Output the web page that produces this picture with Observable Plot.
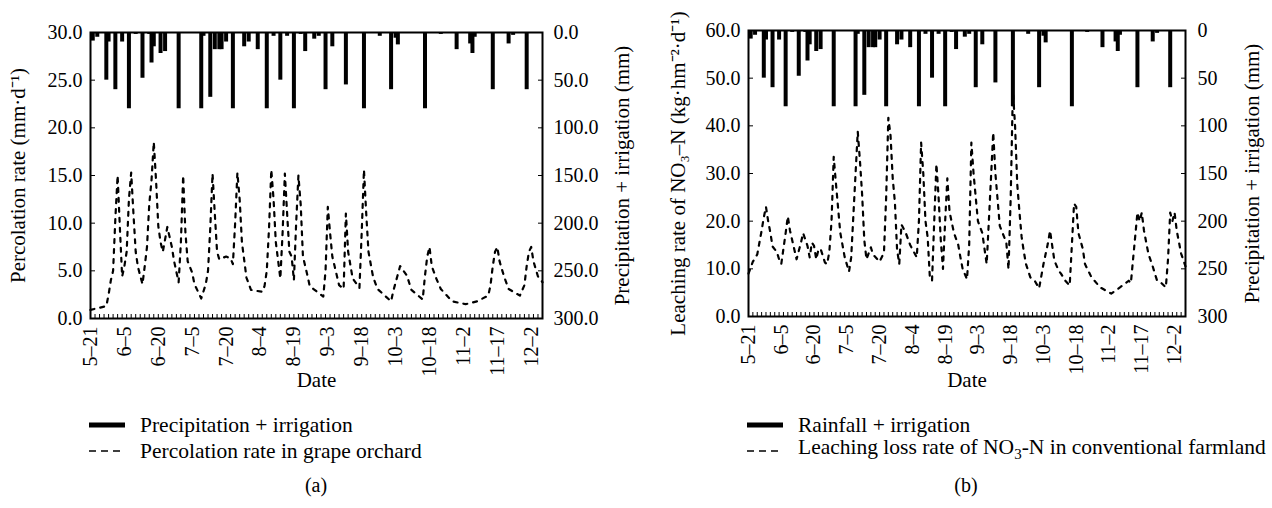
<!DOCTYPE html>
<html><head><meta charset="utf-8">
<script src="https://cdn.jsdelivr.net/npm/d3@7"></script>
<script src="https://cdn.jsdelivr.net/npm/@observablehq/plot@0.6"></script>
<style>
body{margin:0;background:#fff;}
#wrap{position:relative;width:1272px;height:508px;font-family:"Liberation Serif",serif;color:#000;background:#fff;overflow:hidden;}
.panel{position:absolute;top:0;font-family:"Liberation Serif",serif;}
.panel text{font-family:"Liberation Serif",serif;}
.leg{position:absolute;font-size:21.5px;line-height:26px;white-space:nowrap;}
.leg .row{display:flex;align-items:center;height:26px;}
.leg svg{margin-right:14px;}
.cap{position:absolute;font-size:20px;transform:translateX(-50%);}
</style></head><body><div id="wrap"></div>
<script>
// x-axis tick labels (month-day)
const tickLabels = ["5-21","6-5","6-20","7-5","7-20","8-4","8-19","9-3","9-18","10-3","10-18","11-2","11-17","12-2"];
const firstDay = "5-21", lastDay = "12-7";

// Precipitation (rainfall) + irrigation, mm (same events in both panels)
const waterDates = ["5-22","5-24","5-28","5-29","6-1","6-4","6-7","6-10","6-13","6-16","6-17","6-18","6-21","6-23","6-29","7-9","7-10","7-13","7-15","7-17","7-18","7-20","7-23","7-28","7-30","8-3","8-7","8-10","8-13","8-16","8-19","8-22","8-24","8-28","8-30","9-2","9-5","9-11","9-19","9-26","10-1","10-3","10-4","10-16","10-23","10-30","11-5","11-6","11-7","11-15","11-22","11-24","11-30"];
const waterMm = [9,5,50,10,60,10,80,2,48,2,32,15,22,20,80,80,4,68,18,18,18,10,80,15,10,18,80,4,50,4,80,2,20,7,4,60,15,55,80,4,60,6,13,80,2,18,12,22,5,60,12,3,60];

// (a) percolation rate in grape orchard, mm/d
const percDates = ["5-21","5-28","5-29","5-30","5-31","6-1","6-2","6-3","6-4","6-5","6-6","6-7","6-8","6-9","6-10","6-11","6-13","6-14","6-15","6-16","6-17","6-18","6-19","6-20","6-21","6-22","6-24","6-26","6-27","6-29","6-30","7-1","7-2","7-3","7-5","7-6","7-9","7-11","7-12","7-13","7-14","7-15","7-16","7-17","7-20","7-22","7-23","7-24","7-25","7-26","7-27","7-29","7-31","8-5","8-6","8-7","8-8","8-9","8-10","8-11","8-13","8-14","8-15","8-16","8-17","8-18","8-19","8-20","8-21","8-22","8-23","8-25","8-26","9-1","9-2","9-3","9-4","9-5","9-6","9-8","9-10","9-11","9-12","9-14","9-17","9-18","9-19","9-20","9-21","9-23","9-25","10-1","10-2","10-5","10-8","10-10","10-15","10-16","10-17","10-18","10-19","10-21","10-23","10-28","11-3","11-8","11-13","11-14","11-15","11-16","11-17","11-18","11-20","11-22","11-27","11-29","11-30","12-1","12-2","12-3","12-5","12-7"];
const percRate = [0.9,1.3,2.5,4.0,5.0,10.5,15.0,9.5,4.4,5.5,7.0,12.5,15.3,11.0,7.0,5.4,3.6,5.5,7.5,12.0,14.5,18.5,14.5,9.7,8.0,7.0,9.6,7.5,6.0,3.8,8.0,15.0,9.0,6.0,4.8,3.6,2.1,3.6,5.0,9.5,15.2,11.0,7.0,6.2,6.5,6.3,5.7,10.0,15.3,12.5,8.0,4.3,3.0,2.8,3.4,5.0,9.5,15.6,12.5,8.0,4.2,9.0,15.2,11.0,7.0,6.5,4.0,10.0,15.0,12.0,6.5,4.5,3.4,2.3,5.0,11.7,9.0,6.5,5.5,3.5,3.1,11.0,7.0,4.2,3.2,9.0,15.6,11.0,7.0,4.4,3.1,1.8,2.9,5.5,4.5,3.0,2.0,4.5,6.5,7.5,5.5,4.2,3.1,1.8,1.5,1.8,2.4,3.5,5.5,7.0,7.5,6.0,4.4,3.1,2.4,3.5,5.5,7.0,7.5,6.0,4.4,3.8];

// (b) leaching rate of NO3-N in conventional farmland, kg/hm2/d
const leachDates = ["5-21","5-23","5-25","5-27","5-28","5-29","5-30","5-31","6-1","6-3","6-4","6-5","6-7","6-8","6-9","6-10","6-11","6-12","6-14","6-15","6-17","6-18","6-19","6-20","6-21","6-22","6-23","6-25","6-26","6-27","6-28","6-29","6-30","7-2","7-4","7-6","7-7","7-9","7-10","7-11","7-12","7-13","7-14","7-16","7-17","7-19","7-20","7-22","7-23","7-24","7-25","7-26","7-27","7-28","7-29","7-30","8-1","8-3","8-6","8-7","8-8","8-9","8-10","8-11","8-12","8-13","8-14","8-15","8-16","8-17","8-18","8-19","8-20","8-21","8-23","8-25","8-26","8-27","8-29","8-30","8-31","9-1","9-3","9-5","9-7","9-8","9-10","9-11","9-13","9-16","9-17","9-18","9-19","9-20","9-21","9-22","9-23","9-24","9-25","9-27","9-29","10-1","10-3","10-5","10-6","10-8","10-10","10-11","10-13","10-15","10-16","10-17","10-18","10-19","10-21","10-22","10-25","10-29","11-3","11-7","11-11","11-12","11-13","11-15","11-16","11-17","11-18","11-20","11-22","11-24","11-26","11-28","11-29","11-30","12-1","12-2","12-3","12-5","12-7"];
const leachRate = [9.0,11.5,13.0,18.0,20.8,23.0,20.0,17.6,14.7,13.5,12.0,11.0,17.5,21.0,18.0,16.0,14.0,12.0,15.5,17.5,14.8,12.4,15.5,14.8,12.0,14.0,14.2,11.3,11.0,13.6,20.0,33.5,28.0,17.6,12.5,9.4,12.4,30.0,38.8,32.7,25.6,16.0,12.0,14.5,13.0,12.0,11.5,13.4,25.0,41.7,38.0,29.0,24.0,14.0,11.0,19.3,17.5,15.0,12.4,20.0,36.5,30.0,20.0,16.6,8.2,7.5,20.0,32.0,25.0,16.0,10.0,20.0,29.0,22.0,17.6,15.0,12.4,10.0,7.8,15.0,36.5,30.0,20.0,17.5,11.0,20.0,38.6,30.0,19.0,15.5,9.9,25.0,47.5,40.0,27.7,22.0,16.7,13.6,11.0,8.2,7.5,5.9,11.0,15.3,18.0,11.7,9.6,9.0,7.5,6.5,15.0,23.7,23.0,17.5,14.2,11.0,8.2,6.1,4.8,6.1,7.5,7.0,12.0,21.8,20.0,21.8,18.0,13.2,10.5,7.5,7.0,6.1,12.0,21.8,20.0,21.8,18.0,13.2,10.5];

const legendA = ["Precipitation + irrigation", "Percolation rate in grape orchard"];
const legendB = ["Rainfall + irrigation", "Leaching loss rate of NO<sub style=\"font-size:15px\">3</sub>-N in conventional farmland"];

const parse = s => { const [m, d] = s.split("-").map(Number); return new Date(Date.UTC(2019, m - 1, d)); };
const start = parse(firstDay), end = parse(lastDay);
const tickDates = tickLabels.map(parse);
const minorTicks = d3.utcDay.range(start, d3.utcDay.offset(end, 1), 2);
const water = waterDates.map((s, i) => ({date: parse(s), mm: waterMm[i]}));
const perc = percDates.map((s, i) => ({date: parse(s), v: percRate[i]}));
const leach = leachDates.map((s, i) => ({date: parse(s), v: leachRate[i]}));

const FONT = "'Liberation Serif', 'Times New Roman', serif";

function panel(o) {
  const k = o.yMax / 300; // left-axis units per mm on the reversed right axis
  const leftTicks = d3.range(0, 7).map(i => i * o.yMax / 6);
  const rightMm = d3.range(0, 7).map(i => i * 50);
  return Plot.plot({
    width: 636, height: 400,
    marginLeft: o.ml, marginRight: o.mr, marginTop: o.mt, marginBottom: o.mb,
    style: {fontFamily: FONT, fontSize: "20px", background: "white", color: "black", overflow: "visible"},
    x: {type: "utc", domain: [start, end]},
    y: {domain: [0, o.yMax]},
    marks: [
      Plot.ruleX(water, {x: "date", y1: o.yMax, y2: d => o.yMax - d.mm * k, stroke: "black", strokeWidth: 4}),
      Plot.line(o.line, {x: "date", y: "v", stroke: "black", strokeWidth: 2.2, strokeDasharray: "4,6"}),
      Plot.axisY({ticks: leftTicks, tickFormat: d => d.toFixed(1), tickSize: -5, tickPadding: 5 + o.lpad, label: null, fontSize: 20, fontFamily: FONT}),
      Plot.axisY({anchor: "right", ticks: rightMm.map(m => o.yMax - m * k), tickFormat: d => o.rfmt(Math.round((o.yMax - d) / k)), tickSize: -5, tickPadding: 5 + o.rpad, label: null, fontSize: 20, fontFamily: FONT}),
      Plot.axisX({ticks: tickDates, tickFormat: (d, i) => tickLabels[i].replace("-", "\u2013"), tickRotate: -90, tickSize: 0, tickPadding: 8, label: null, fontSize: 20, fontFamily: FONT}),
      Plot.axisX({ticks: minorTicks, tickFormat: () => "", tickSize: -4, label: null}),
      Plot.frame({stroke: "black", strokeWidth: 2}),
      Plot.text([o.leftTitle], {frameAnchor: "left", textAnchor: "middle", lineAnchor: "middle", rotate: -90, dx: o.ldx, fontSize: 21, fontFamily: FONT}),
      Plot.text([o.rightTitle], {frameAnchor: "right", textAnchor: "middle", lineAnchor: "middle", rotate: -90, dx: o.rdx, fontSize: 21, fontFamily: FONT}),
      Plot.text(["Date"], {frameAnchor: "bottom", textAnchor: "middle", dy: o.ddy, fontSize: 21, fontFamily: FONT})
    ]
  });
}

const wrap = document.getElementById("wrap");
const pa = panel({line: perc, yMax: 30, ml: 90, mr: 94, mt: 32, mb: 82, lpad: 8, rpad: 11,
  rfmt: v => v.toFixed(1), leftTitle: "Percolation rate (mm\u00b7d\u207b\u00b9)", rightTitle: "Precipitation + irrigation (mm)",
  ldx: -72, rdx: 80, ddy: 68});
const pb = panel({line: leach, yMax: 60, ml: 112, mr: 87, mt: 30, mb: 84, lpad: 8, rpad: 12,
  rfmt: v => String(v), leftTitle: "Leaching rate of NO\u2083\u2013N (kg\u00b7hm\u207b\u00b2\u00b7d\u207b\u00b9)", rightTitle: "Precipitation + irrigation (mm)",
  ldx: -70, rdx: 67, ddy: 70});
pa.classList.add("panel"); pa.style.left = "0px";
pb.classList.add("panel"); pb.style.left = "636px";
wrap.appendChild(pa); wrap.appendChild(pb);

function legend(items, left) {
  const div = document.createElement("div");
  div.className = "leg";
  div.style.left = left + "px"; div.style.top = "412px";
  div.innerHTML = items.map((t, i) => `<div class="row"><svg width="38" height="10">${i === 0
    ? '<line x1="1" x2="37" y1="5" y2="5" stroke="black" stroke-width="5"/>'
    : '<line x1="1" x2="37" y1="5" y2="5" stroke="black" stroke-width="1.6" stroke-dasharray="7,5"/>'}</svg><span>${t}</span></div>`).join("");
  wrap.appendChild(div);
}
legend(legendA, 88);
legend(legendB, 746);
[["(a)", 316], ["(b)", 966]].forEach(([t, x]) => {
  const c = document.createElement("div"); c.className = "cap"; c.textContent = t;
  c.style.left = x + "px"; c.style.top = "474px"; wrap.appendChild(c);
});
</script></body></html>
